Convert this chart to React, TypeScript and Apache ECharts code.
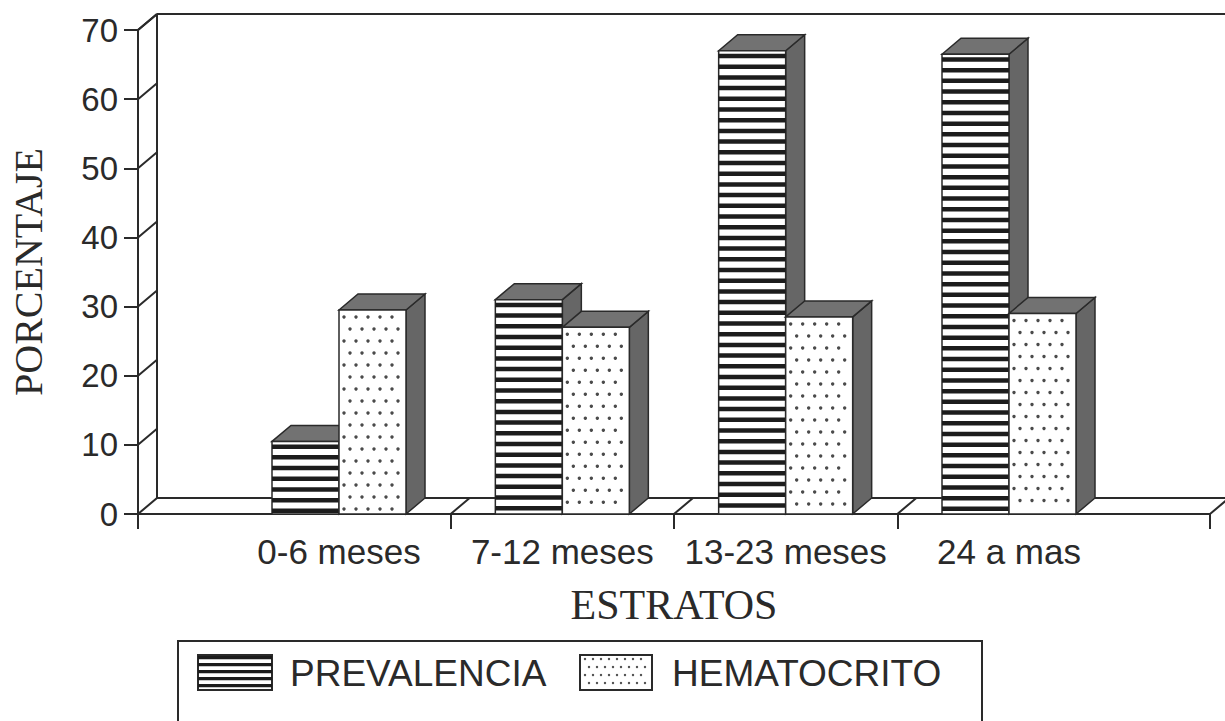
import React, { useEffect, useRef } from "react";
import * as echarts from "echarts";

// ---- data ----
const categories = ["0-6 meses", "7-12 meses", "13-23 meses", "24 a mas"];
const seriesNames = ["PREVALENCIA", "HEMATOCRITO"];
const prevalencia = [10.5, 31, 67, 66.5];
const hematocrito = [29.5, 27, 28.5, 29];
const yTicks = [0, 10, 20, 30, 40, 50, 60, 70];
const categoryBounds = [-0.9, 0.5, 1.5, 2.5, 3.9];
const categoryCenters = [0, 1, 2, 3];

// ---- style constants ----
const X_MIN = categoryBounds[0];
const X_MAX = categoryBounds[categoryBounds.length - 1];
const Y_MAX = yTicks[yTicks.length - 1];
const DX = 19;
const DY = -16;
const BAR_W = 0.3;
const INK = "#2a2a2a";
const SIDE = "#666666";
const TOP = "#727272";
const SANS = "'Liberation Sans', Arial, Helvetica, sans-serif";
const SERIF = "'Liberation Serif', 'Times New Roman', serif";

function stripeRects(x: number, y: number, w: number, h: number, period: number, band: number) {
  const out: any[] = [];
  for (let yy = y + 3; yy + band <= y + h; yy += period) {
    out.push({ type: "rect", shape: { x, y: yy, width: w, height: band }, style: { fill: "#1c1c1c" } });
  }
  return out;
}

function dotCircles(x: number, y: number, w: number, h: number, step: number, r: number) {
  const out: any[] = [];
  let row = 0;
  for (let yy = y + 7; yy < y + h - 3; yy += step, row++) {
    for (let xx = x + 5 + (row % 2) * (step / 2); xx < x + w - 3; xx += step) {
      out.push({ type: "circle", shape: { cx: xx, cy: yy, r }, style: { fill: "#4a4a4a" } });
    }
  }
  return out;
}

function makeBarRender(kind: "stripe" | "dot", offset: number) {
  return (_params: any, api: any) => {
    const xi = api.value(0);
    const v = api.value(1);
    const p0 = api.coord([xi + offset, 0]);
    const p1 = api.coord([xi + offset + BAR_W, v]);
    const xl = p0[0];
    const y0 = p0[1];
    const xr = p1[0];
    const yt = p1[1];
    const children: any[] = [];
    children.push({
      type: "polygon",
      shape: { points: [[xr, yt], [xr + DX, yt + DY], [xr + DX, y0 + DY], [xr, y0]] },
      style: { fill: SIDE, stroke: INK, lineWidth: 1.5 },
    });
    children.push({
      type: "polygon",
      shape: { points: [[xl, yt], [xl + DX, yt + DY], [xr + DX, yt + DY], [xr, yt]] },
      style: { fill: TOP, stroke: INK, lineWidth: 1.5 },
    });
    children.push({
      type: "rect",
      shape: { x: xl, y: yt, width: xr - xl, height: y0 - yt },
      style: { fill: "#ffffff", stroke: INK, lineWidth: 1.5 },
    });
    if (kind === "stripe") {
      children.push(...stripeRects(xl, yt, xr - xl, y0 - yt, 10.7, 4.5));
    } else {
      children.push(...dotCircles(xl, yt, xr - xl, y0 - yt, 12, 1.7));
    }
    return { type: "group", children };
  };
}

function frameRender(_params: any, api: any) {
  const pt = (x: number, y: number) => api.coord([x, y]);
  const d = (p: number[]) => [p[0] + DX, p[1] + DY];
  const children: any[] = [];
  const L = (a: number[], b: number[]) =>
    children.push({
      type: "line",
      shape: { x1: a[0], y1: a[1], x2: b[0], y2: b[1] },
      style: { stroke: INK, lineWidth: 2 },
    });
  const bl = pt(X_MIN, 0);
  const tl = pt(X_MIN, Y_MAX);
  const br = pt(X_MAX, 0);
  const tr = pt(X_MAX, Y_MAX);
  L(d(bl), d(tl));
  L(d(tl), d(tr));
  L(tl, d(tl));
  L(d(bl), d(br));
  L(bl, d(bl));
  L(br, d(br));
  L(d(br), d(tr));
  yTicks.slice(1).forEach((v) => {
    const p = pt(X_MIN, v);
    L(p, d(p));
  });
  categoryBounds.slice(1, -1).forEach((b) => {
    const p = pt(b, 0);
    L(p, d(p));
  });
  return { type: "group", children };
}

function legendGraphics() {
  const sw1 = { x: 198, y: 655, w: 74, h: 35 };
  const sw2 = { x: 580, y: 655, w: 72, h: 35 };
  return [
    {
      type: "rect",
      shape: { x: 178, y: 641, width: 804, height: 120 },
      style: { fill: "none", stroke: INK, lineWidth: 2 },
    },
    {
      type: "group",
      children: [
        { type: "rect", shape: { x: sw1.x, y: sw1.y, width: sw1.w, height: sw1.h }, style: { fill: "#fff", stroke: INK, lineWidth: 2 } },
        ...stripeRects(sw1.x, sw1.y - 2, sw1.w, sw1.h, 7, 3.2),
      ],
    },
    {
      type: "text",
      style: { text: seriesNames[0], x: 290, y: 673, font: `37px ${SANS}`, fill: INK, verticalAlign: "middle" },
    },
    {
      type: "group",
      children: [
        { type: "rect", shape: { x: sw2.x, y: sw2.y, width: sw2.w, height: sw2.h }, style: { fill: "#fff", stroke: INK, lineWidth: 2 } },
        ...dotCircles(sw2.x, sw2.y - 3, sw2.w, sw2.h, 8, 1.2),
      ],
    },
    {
      type: "text",
      style: { text: seriesNames[1], x: 672, y: 673, font: `37px ${SANS}`, fill: INK, verticalAlign: "middle" },
    },
  ];
}

export default function App() {
  const ref = useRef<HTMLDivElement>(null);
  useEffect(() => {
    if (!ref.current) return;
    const chart = echarts.init(ref.current, null, { renderer: "svg" });
    const lineStyle = { color: INK, width: 2 };
    chart.setOption({
      animation: false,
      backgroundColor: "#ffffff",
      grid: { left: 138, right: 15, top: 30, bottom: 207, containLabel: false, outerBoundsMode: "none" },
      xAxis: {
        type: "value",
        min: X_MIN,
        max: X_MAX,
        splitLine: { show: false },
        axisLine: { show: true, onZero: false, lineStyle },
        axisTick: { show: true, customValues: categoryBounds, length: 15, lineStyle },
        axisLabel: {
          customValues: categoryCenters,
          formatter: (v: number) => categories[Math.round(v)] ?? "",
          fontSize: 35,
          fontFamily: SANS,
          color: INK,
          margin: 20,
        },
        name: "ESTRATOS",
        nameLocation: "middle",
        nameGap: 70,
        nameTextStyle: { fontFamily: SERIF, fontSize: 42, color: INK },
      },
      yAxis: {
        type: "value",
        min: 0,
        max: Y_MAX,
        interval: 10,
        splitLine: { show: false },
        axisLine: { show: true, onZero: false, lineStyle },
        axisTick: { show: true, length: 14, lineStyle },
        axisLabel: { fontSize: 33, fontFamily: SANS, color: INK, margin: 20 },
        name: "PORCENTAJE",
        nameLocation: "middle",
        nameRotate: 90,
        nameGap: 90,
        nameTextStyle: { fontFamily: SERIF, fontSize: 40, color: INK },
      },
      series: [
        {
          type: "custom",
          name: "frame",
          silent: true,
          clip: false,
          renderItem: frameRender,
          data: [[0, 0]],
          encode: { x: 0, y: 1 },
        },
        {
          type: "custom",
          name: seriesNames[0],
          clip: false,
          renderItem: makeBarRender("stripe", -BAR_W),
          data: categoryCenters.map((c, i) => [c, prevalencia[i]]),
          encode: { x: 0, y: 1 },
        },
        {
          type: "custom",
          name: seriesNames[1],
          clip: false,
          renderItem: makeBarRender("dot", 0),
          data: categoryCenters.map((c, i) => [c, hematocrito[i]]),
          encode: { x: 0, y: 1 },
        },
      ],
      graphic: legendGraphics(),
    });
    return () => chart.dispose();
  }, []);
  return (
    <div
      ref={ref}
      style={{ position: "fixed", left: 0, top: 0, width: 1225, height: 721, background: "#fff" }}
    />
  );
}
